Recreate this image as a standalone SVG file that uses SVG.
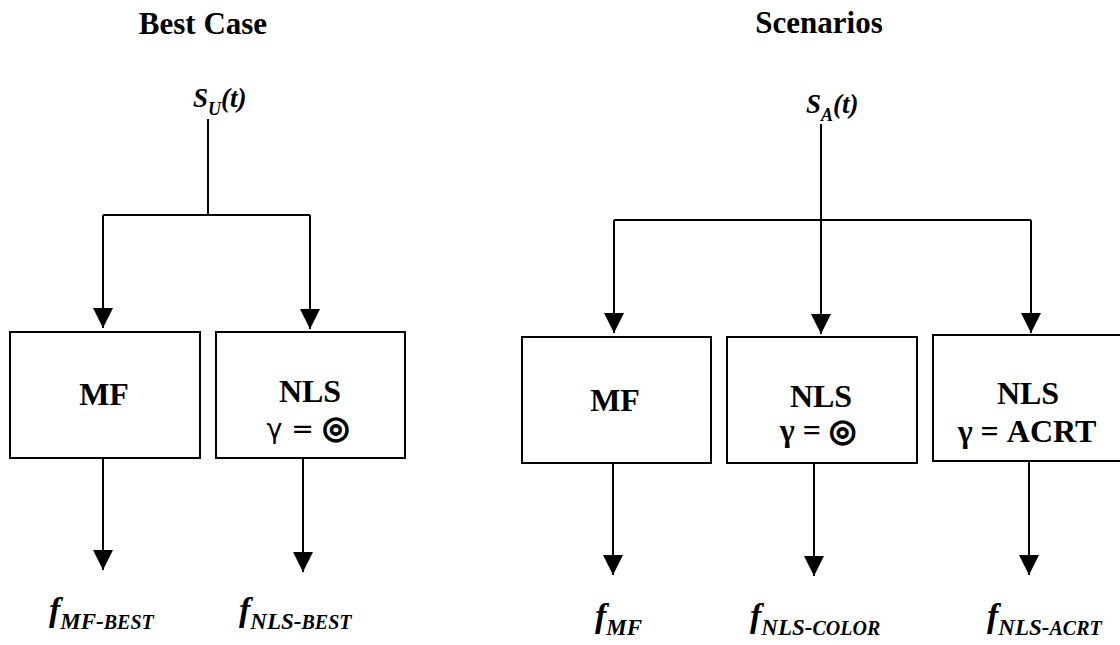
<svg xmlns="http://www.w3.org/2000/svg" width="1120" height="645" viewBox="0 0 1120 645">
<style>
.title{font-family:"Liberation Serif","Times New Roman",serif;font-weight:bold;font-size:31px;fill:#000}
.lbl{font-family:"Liberation Serif","Times New Roman",serif;font-weight:bold;font-size:32px;fill:#000}
.sig{font-family:"Liberation Serif","Times New Roman",serif;font-weight:bold;font-style:italic;font-size:27px;fill:#000}
.out{font-family:"Liberation Serif","Times New Roman",serif;font-weight:bold;font-style:italic;font-size:34px;fill:#000}
.gam{font-family:"DejaVu Sans",sans-serif;font-size:27px;fill:#000}
.gams{font-family:"Liberation Serif","DejaVu Sans",serif;font-weight:bold;font-size:32px;fill:#000}
.bull{font-family:"DejaVu Sans",sans-serif;font-weight:bold;font-size:31px;stroke:#000;stroke-width:1.6}
.box{fill:#fff;stroke:#000;stroke-width:2}
.ln{fill:none;stroke:#000;stroke-width:2}
</style>
<defs>
<marker id="ah" viewBox="0 0 20 20" markerWidth="20" markerHeight="20" refX="20" refY="10" orient="auto" markerUnits="userSpaceOnUse">
<path d="M0,0 L20,10 L0,20 Z" fill="#000"/>
</marker>
</defs>

<text class="title" x="203" y="34" text-anchor="middle">Best Case</text>
<text class="title" x="819" y="33" text-anchor="middle">Scenarios</text>

<g id="su">
<text class="sig" x="193" y="107">S<tspan font-size="18" dy="8">U</tspan><tspan dy="-8">(t)</tspan></text>
</g>
<g id="sa">
<text class="sig" x="806" y="113">S<tspan font-size="18" dy="8">A</tspan><tspan dy="-8">(t)</tspan></text>
</g>

<g id="connectors">
<polyline class="ln" points="208,119 208,215"/>
<polyline class="ln" points="103,215 310,215"/>
<line class="ln" x1="103" y1="215" x2="103" y2="328" marker-end="url(#ah)"/>
<line class="ln" x1="310" y1="215" x2="310" y2="329" marker-end="url(#ah)"/>
<line class="ln" x1="103" y1="458" x2="103" y2="570" marker-end="url(#ah)"/>
<line class="ln" x1="303" y1="458" x2="303" y2="572" marker-end="url(#ah)"/>

<polyline class="ln" points="821,124 821,220"/>
<polyline class="ln" points="614,220 1031,220"/>
<line class="ln" x1="614" y1="220" x2="614" y2="333" marker-end="url(#ah)"/>
<line class="ln" x1="821" y1="220" x2="821" y2="334" marker-end="url(#ah)"/>
<line class="ln" x1="1031" y1="220" x2="1031" y2="333" marker-end="url(#ah)"/>
<line class="ln" x1="613" y1="463" x2="613" y2="575" marker-end="url(#ah)"/>
<line class="ln" x1="814" y1="463" x2="814" y2="576" marker-end="url(#ah)"/>
<line class="ln" x1="1029" y1="461" x2="1029" y2="575" marker-end="url(#ah)"/>
</g>

<g id="mf-best">
<rect class="box" x="10" y="332" width="190" height="126"/>
<text class="lbl" x="104" y="405" text-anchor="middle">MF</text>
</g>
<g id="nls-best">
<rect class="box" x="216" y="332" width="189" height="126"/>
<text class="lbl" x="310" y="402" text-anchor="middle">NLS</text>
<text class="gam" x="308" y="438" text-anchor="middle">γ = <tspan class="bull">◎</tspan></text>
</g>

<g id="mf">
<rect class="box" x="522" y="337" width="189" height="126"/>
<text class="lbl" x="615" y="411" text-anchor="middle">MF</text>
</g>
<g id="nls-color">
<rect class="box" x="727" y="337" width="190" height="126"/>
<text class="lbl" x="821" y="407" text-anchor="middle">NLS</text>
<text class="gams" x="818" y="441" text-anchor="middle">γ = <tspan class="bull">◎</tspan></text>
</g>
<g id="nls-acrt">
<rect class="box" x="933" y="335" width="200" height="126"/>
<text class="lbl" x="1028" y="404" text-anchor="middle">NLS</text>
<text class="gams" x="1027" y="442" text-anchor="middle">γ = ACRT</text>
</g>

<g id="out-mf-best">
<text class="out" x="49" y="621">f<tspan font-size="23" dy="8">MF-</tspan><tspan font-size="20">BEST</tspan></text>
</g>
<g id="out-nls-best">
<text class="out" x="239" y="621">f<tspan font-size="23" dy="8">NLS-</tspan><tspan font-size="20">BEST</tspan></text>
</g>
<g id="out-mf">
<text class="out" x="595" y="627">f<tspan font-size="23" dy="8">MF</tspan></text>
</g>
<g id="out-nls-color">
<text class="out" x="750" y="627">f<tspan font-size="23" dy="8">NLS-</tspan><tspan font-size="20">COLOR</tspan></text>
</g>
<g id="out-nls-acrt">
<text class="out" x="987" y="627">f<tspan font-size="23" dy="8">NLS-</tspan><tspan font-size="20">ACRT</tspan></text>
</g>
</svg>
